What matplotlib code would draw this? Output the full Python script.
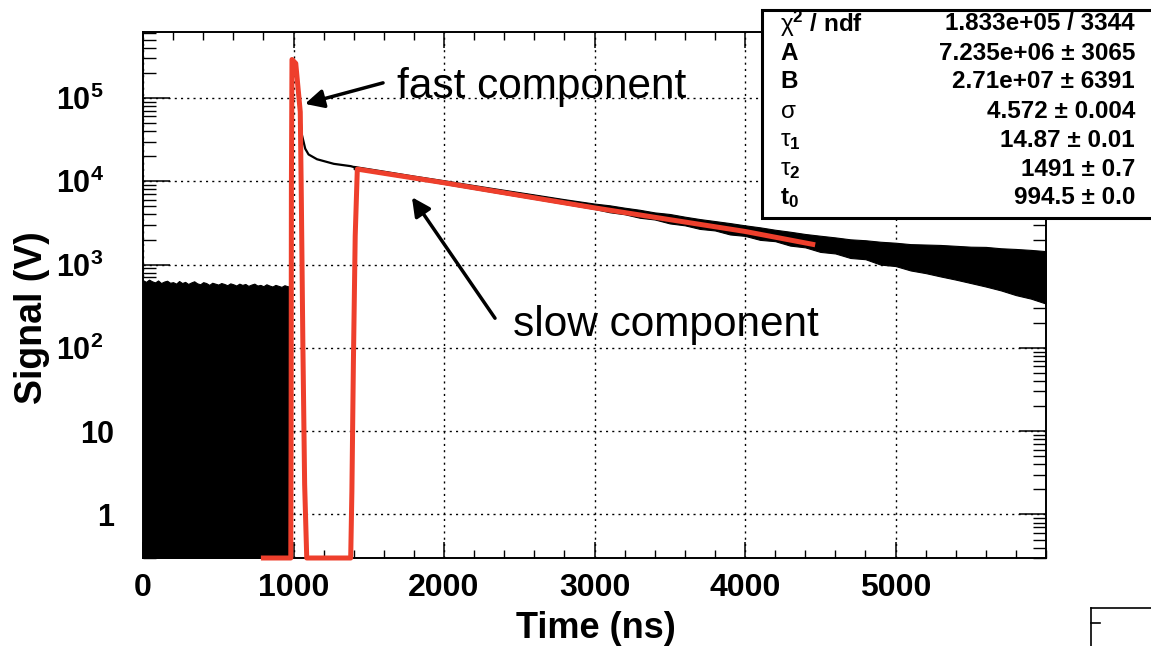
import matplotlib
matplotlib.use("Agg")
import matplotlib.pyplot as plt
from matplotlib.patches import Rectangle
from matplotlib.lines import Line2D
from matplotlib.ticker import FixedLocator, FixedFormatter, MultipleLocator, LogLocator, NullFormatter

plt.rcParams['font.family'] = ['Liberation Sans', 'DejaVu Sans']
plt.rcParams['mathtext.fontset'] = 'custom'
plt.rcParams['mathtext.rm'] = 'Liberation Sans'
plt.rcParams['mathtext.it'] = 'Liberation Sans:italic'
plt.rcParams['mathtext.bf'] = 'Liberation Sans:bold'

# ---------------- data ----------------
# noise before the pulse (upper edge of the dense black histogram), every 20 ns
pre_t = list(range(0, 1000, 20))
pre_hi = [650, 620, 660, 630, 610, 645, 600, 625, 640, 605, 615, 590, 635, 600, 620,
          585, 610, 630, 595, 580, 615, 600, 570, 605, 590, 575, 600, 585, 565, 595,
          580, 560, 590, 570, 585, 555, 575, 590, 560, 570, 550, 580, 560, 545, 570,
          555, 540, 565, 550, 545]

# measured signal: fast pulse and early decay
decay_t = [982, 988, 1000, 1015, 1030, 1045, 1056, 1078, 1100, 1156, 1268, 1380, 1420]
decay_v = [540, 2.0e5, 2.9e5, 2.2e5, 1.2e5, 6.0e4, 3.6e4, 2.46e4, 2.1e4, 1.84e4, 1.62e4, 1.52e4, 1.45e4]

# measured signal: slow tail (noise band edges)
band_t = [1400, 1600, 1800, 2000, 2200, 2400, 2600, 2800,
          3000, 3100, 3200, 3300, 3400, 3500, 3600, 3700, 3800, 3900, 4000,
          4100, 4200, 4300, 4400, 4500, 4600, 4700, 4800, 4900, 5000,
          5100, 5200, 5300, 5400, 5500, 5600, 5700, 5800, 5900, 6000]
band_hi = [15300, 13400, 11700, 10300, 9000, 7900, 6950, 6100,
           5400, 5150, 4820, 4550, 4230, 4050, 3760, 3520, 3330, 3150, 2960,
           2800, 2620, 2480, 2330, 2220, 2120, 2010, 1960, 1880, 1830,
           1760, 1740, 1720, 1680, 1640, 1630, 1570, 1540, 1500, 1450]
band_lo = [14000, 12200, 10700, 9300, 8100, 7050, 6150, 5350,
           4650, 4250, 4020, 3650, 3480, 3120, 2960, 2680, 2570, 2300, 2210,
           1980, 1910, 1690, 1610, 1420, 1360, 1200, 1160, 1000, 960,
           850, 790, 720, 660, 600, 545, 490, 430, 390, 340]

# fit function (red)
fit_t = [800, 982, 984, 986, 990, 1015, 1045, 1052, 1062, 1074, 1088, 1380,
         1388, 1398, 1410, 1424, 2000, 3000, 4000, 4450]
fit_v = [0.3, 0.3, 10, 8500, 2.9e5, 2.6e5, 6.8e4, 6300, 120, 2.3, 0.3, 0.3,
         1.9, 67, 2200, 14000, 9600, 4800, 2500, 1750]

x_ticks = [0, 1000, 2000, 3000, 4000, 5000]
x_labels = ['0', '1000', '2000', '3000', '4000', '5000']
y_ticks = [1, 10, 100, 1000, 10000, 100000]
y_labels = ['1', '10', r'$\mathbf{10^{2}}$  ', r'$\mathbf{10^{3}}$  ',
            r'$\mathbf{10^{4}}$  ', r'$\mathbf{10^{5}}$  ']

stat_names = [r'$\mathrm{\chi}^{\mathbf{2}}$ / ndf', 'A', 'B', r'$\mathrm{\sigma}$',
              r'$\mathrm{\tau}_{\mathbf{1}}$', r'$\mathrm{\tau}_{\mathbf{2}}$', r'$\mathbf{t}_{\mathbf{0}}$']
stat_values = ['1.833e+05 / 3344', '7.235e+06 ± 3065', '2.71e+07 ± 6391',
               '4.572 ± 0.004', '14.87 ± 0.01', '1491 ± 0.7', '994.5 ± 0.0']

YMIN, YMAX = 0.3, 6.2e5
XMIN, XMAX = 0, 6000
RED = '#ee3f2c'

# ---------------- figure ----------------
W, H = 1151, 646
fig = plt.figure(figsize=(W / 100, H / 100), dpi=100)
ax = fig.add_axes([143 / W, 1 - 558 / H, (1046 - 143) / W, (558 - 32) / H])
ax.set_yscale('log')
ax.set_xlim(XMIN, XMAX)
ax.set_ylim(YMIN, YMAX)
ax.set_axisbelow(True)

ax.fill_between(pre_t, 1e-3, pre_hi, color='black', lw=0.8)
ax.plot(decay_t, decay_v, color='black', lw=1.6)
ax.fill_between(band_t, band_lo, band_hi, color='black', lw=0.8)
ax.plot(fit_t, fit_v, color=RED, lw=3.6, clip_on=False, zorder=5)

# axes styling
for s in ax.spines.values():
    s.set_linewidth(1.4)
ax.xaxis.set_major_locator(FixedLocator(x_ticks))
ax.xaxis.set_major_formatter(FixedFormatter(x_labels))
ax.xaxis.set_minor_locator(MultipleLocator(200))
ax.yaxis.set_major_locator(FixedLocator(y_ticks))
ax.yaxis.set_major_formatter(FixedFormatter(y_labels))
ax.yaxis.set_minor_locator(LogLocator(base=10, subs=[2, 3, 4, 5, 6, 7, 8, 9], numticks=20))
ax.yaxis.set_minor_formatter(NullFormatter())

ax.tick_params(axis='x', which='major', direction='in', length=11.5, width=1.1,
               top=True, bottom=True, pad=11, labelsize=23)
ax.tick_params(axis='x', which='minor', direction='in', length=5.8, width=1.0,
               top=True, bottom=True)
ax.tick_params(axis='y', which='major', direction='in', length=19.5, width=1.1,
               left=True, right=True, pad=21, labelsize=22)
ax.tick_params(axis='y', which='minor', direction='in', length=9.7, width=1.0,
               left=True, right=True)
for lab in ax.get_xticklabels() + ax.get_yticklabels():
    lab.set_fontweight('bold')

ax.grid(True, which='major', color='black', linestyle=(0, (1.5, 3)), lw=1.0)

fig.text(596 / W, 1 - 628 / H, 'Time (ns)', ha='center', va='center',
         fontsize=26, fontweight='bold')
fig.text(32 / W, 1 - 318 / H, 'Signal (V)', ha='center', va='center',
         rotation=90, fontsize=27, fontweight='bold')

# annotations
arrow = dict(arrowstyle='-|>', color='black', lw=2.5, mutation_scale=28,
             shrinkA=0, shrinkB=0)
ax.annotate('', xy=(1076, 8.5e4), xytext=(1595, 1.52e5), arrowprops=arrow)
ax.text(1688, 1.0e5, 'fast component', fontsize=30.5, ha='left', va='baseline')
ax.annotate('', xy=(1787, 6440), xytext=(2339, 227), arrowprops=arrow)
ax.text(2458, 138, 'slow component', fontsize=30.5, ha='left', va='baseline')

# stats box
box = Rectangle((762 / W, 1 - 218 / H), (1160 - 762) / W, (218 - 10) / H,
                transform=fig.transFigure, facecolor='white', edgecolor='black',
                lw=2.2, zorder=10, clip_on=False)
fig.add_artist(box)
row_y = [24, 53, 82, 111, 140, 169, 198]
for name, val, y in zip(stat_names, stat_values, row_y):
    fig.text(780 / W, 1 - y / H, name, ha='left', va='center', fontsize=17.5,
             fontweight='bold', zorder=11)
    fig.text(1135 / W, 1 - y / H, val, ha='right', va='center', fontsize=17.5,
             fontweight='bold', zorder=11)

# fragment of a neighbouring frame (bottom right)
for xs, ys in [([1091, 1091], [608, 646]), ([1091, 1151], [608, 608]), ([1091, 1100], [623, 623])]:
    fig.add_artist(Line2D([x / W for x in xs], [1 - y / H for y in ys],
                          transform=fig.transFigure, color='black', lw=1.2))

fig.savefig('out.png', dpi=100)
